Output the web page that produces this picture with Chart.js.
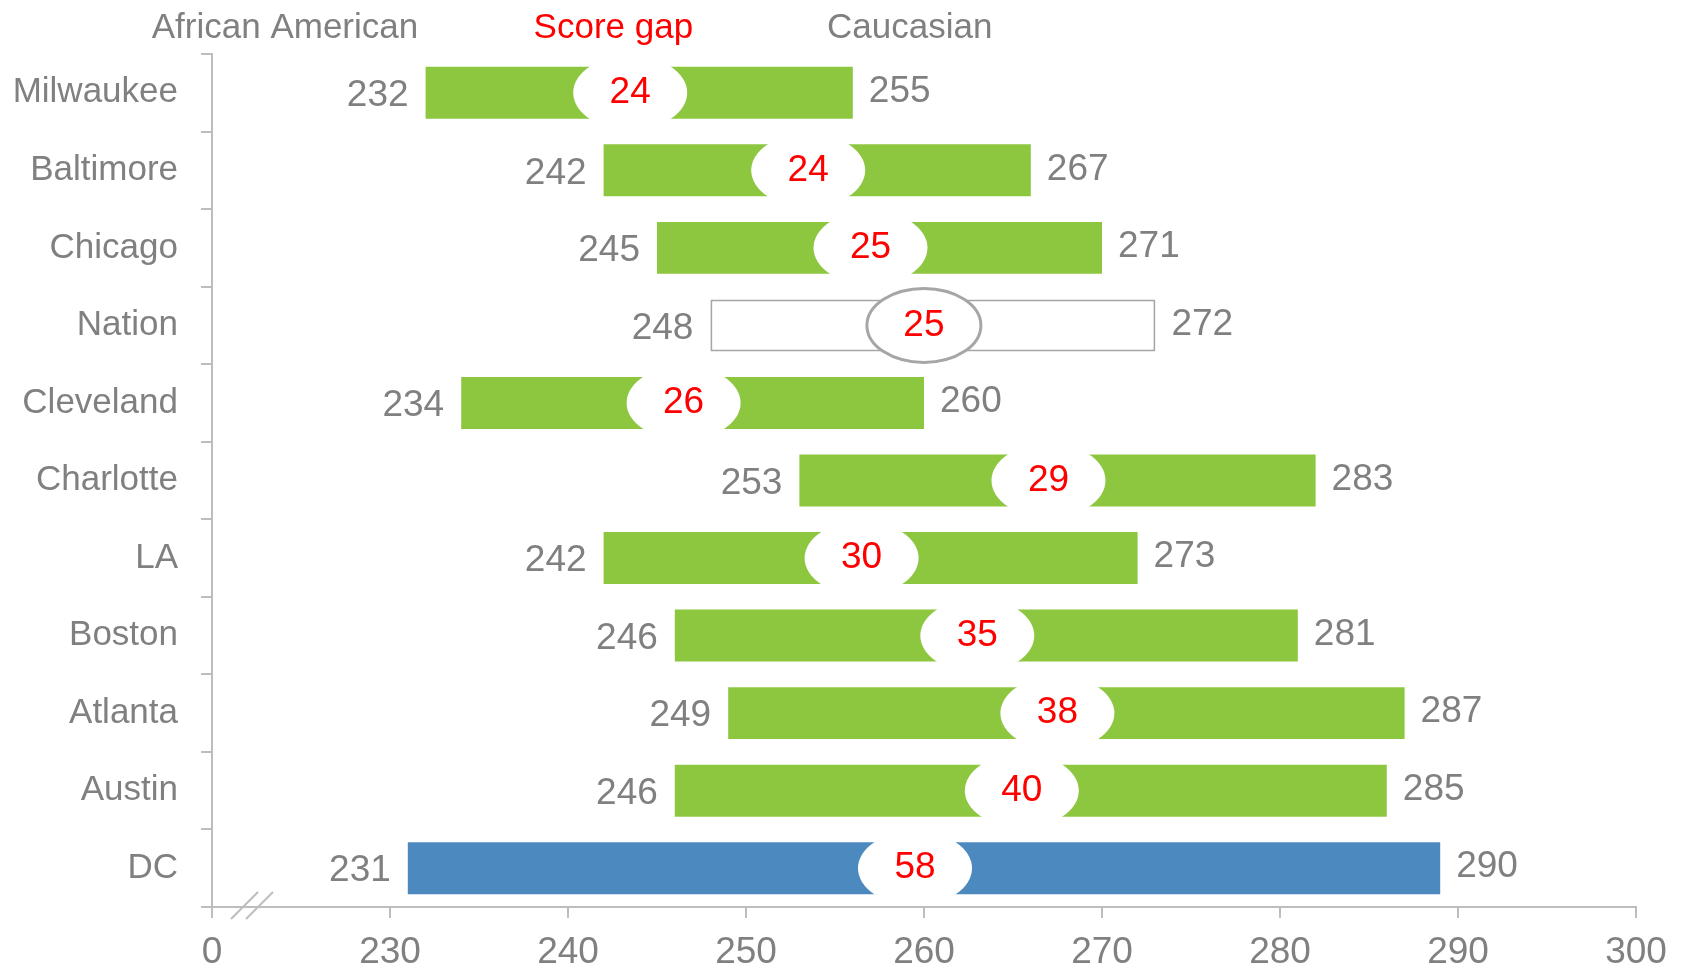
<!DOCTYPE html>
<html>
<head>
<meta charset="utf-8">
<title>Score gap</title>
<script src="https://cdn.jsdelivr.net/npm/chart.js@4"></script>
<style>
  html, body { margin: 0; padding: 0; background: #fff; }
  canvas { display: block; }
</style>
</head>
<body>
<canvas id="chart" width="1682" height="969"></canvas>
<script>
// data
const categories = ['Milwaukee', 'Baltimore', 'Chicago', 'Nation', 'Cleveland', 'Charlotte', 'LA', 'Boston', 'Atlanta', 'Austin', 'DC'];
const africanAmerican = [232, 242, 245, 248, 234, 253, 242, 246, 249, 246, 231];
const caucasian = [255, 267, 271, 272, 260, 283, 273, 281, 287, 285, 290];
const scoreGap = [24, 24, 25, 25, 26, 29, 30, 35, 38, 40, 58];
const tickLabels = ['0', '230', '240', '250', '260', '270', '280', '290', '300'];
const headers = ['African American', 'Score gap', 'Caucasian'];

const FONT = "'Liberation Sans', Arial, Helvetica, sans-serif";
const GREY = '#808080';
const AXIS = '#BDBDBD';
const RED = '#FF0000';

// bars run from the African American score across the gap
const bars = africanAmerican.map((a, i) => [a, a + scoreGap[i]]);
const barColors = categories.map(c => c === 'Nation' ? '#FFFFFF' : (c === 'DC' ? '#4B89BF' : '#8DC63F'));
const borderColors = categories.map(c => c === 'Nation' ? '#A6A6A6' : 'rgba(0,0,0,0)');
const borderWidths = categories.map(c => c === 'Nation' ? 2 : 0);

const labelsPlugin = {
    id: 'gapLabels',
    afterDatasetsDraw(chart) {
        const ctx = chart.ctx;
        const xs = chart.scales.x;
        const ys = chart.scales.y;
        ctx.save();
        ctx.textBaseline = 'middle';
        categories.forEach((c, i) => {
            const y = ys.getPixelForValue(i);
            const x0 = xs.getPixelForValue(bars[i][0]);
            const x1 = xs.getPixelForValue(bars[i][1]);
            // the ovals sit a touch left of the bar middle
            const mid = (x0 + x1) / 2 - 9;

            // white oval with the gap in it
            ctx.beginPath();
            ctx.ellipse(mid, y, 57, 37, 0, 0, Math.PI * 2);
            ctx.fillStyle = '#fff';
            ctx.fill();
            if (c === 'Nation') {
                ctx.lineWidth = 3;
                ctx.strokeStyle = '#A6A6A6';
                ctx.stroke();
            }
            ctx.font = '37px ' + FONT;
            ctx.fillStyle = RED;
            ctx.textAlign = 'center';
            ctx.fillText(String(scoreGap[i]), mid, y);

            ctx.fillStyle = GREY;
            ctx.textAlign = 'right';
            ctx.fillText(String(africanAmerican[i]), x0 - 17, y + 3);
            ctx.textAlign = 'left';
            ctx.fillText(String(caucasian[i]), x1 + 16, y - 1);
        });

        // column headers
        ctx.font = '35px ' + FONT;
        ctx.textAlign = 'center';
        ctx.fillStyle = GREY;
        ctx.fillText(headers[0], xs.getPixelForValue(224.1), 28);
        ctx.fillStyle = RED;
        ctx.fillText(headers[1], xs.getPixelForValue(242.55), 28);
        ctx.fillStyle = GREY;
        ctx.fillText(headers[2], xs.getPixelForValue(259.2), 28);

        // axis break marks
        const left = chart.chartArea.left;
        const bottom = chart.chartArea.bottom;
        ctx.strokeStyle = AXIS;
        ctx.lineWidth = 2;
        [19, 34].forEach(dx => {
            ctx.beginPath();
            ctx.moveTo(left + dx, bottom + 12);
            ctx.lineTo(left + dx + 27, bottom - 15);
            ctx.stroke();
        });
        ctx.restore();
    }
};

new Chart(document.getElementById('chart'), {
    type: 'bar',
    data: {
        labels: categories,
        datasets: [{
            data: bars,
            backgroundColor: barColors,
            borderColor: borderColors,
            borderWidth: borderWidths,
            borderSkipped: false,
            barPercentage: 0.67,
            categoryPercentage: 1
        }]
    },
    options: {
        indexAxis: 'y',
        responsive: false,
        devicePixelRatio: 1,
        animation: false,
        layout: { padding: { top: 54, right: 46, left: 0, bottom: 0 } },
        plugins: {
            legend: { display: false },
            tooltip: { enabled: false }
        },
        scales: {
            x: {
                min: 220,
                max: 300,
                ticks: {
                    stepSize: 10,
                    color: GREY,
                    padding: 13,
                    font: { family: FONT, size: 37 },
                    maxRotation: 0,
                    callback: (v, i) => tickLabels[i]
                },
                grid: { drawOnChartArea: false, tickLength: 11, color: AXIS, lineWidth: 2 },
                border: { color: AXIS, width: 2 },
                afterFit(scale) { scale.height = 62; }
            },
            y: {
                ticks: {
                    color: GREY,
                    padding: 23,
                    font: { family: FONT, size: 35 }
                },
                grid: { drawOnChartArea: false, offset: true, tickLength: 11, color: AXIS, lineWidth: 2 },
                border: { color: AXIS, width: 2 },
                afterFit(scale) { scale.width = 212; }
            }
        }
    },
    plugins: [labelsPlugin]
});
</script>
</body>
</html>
